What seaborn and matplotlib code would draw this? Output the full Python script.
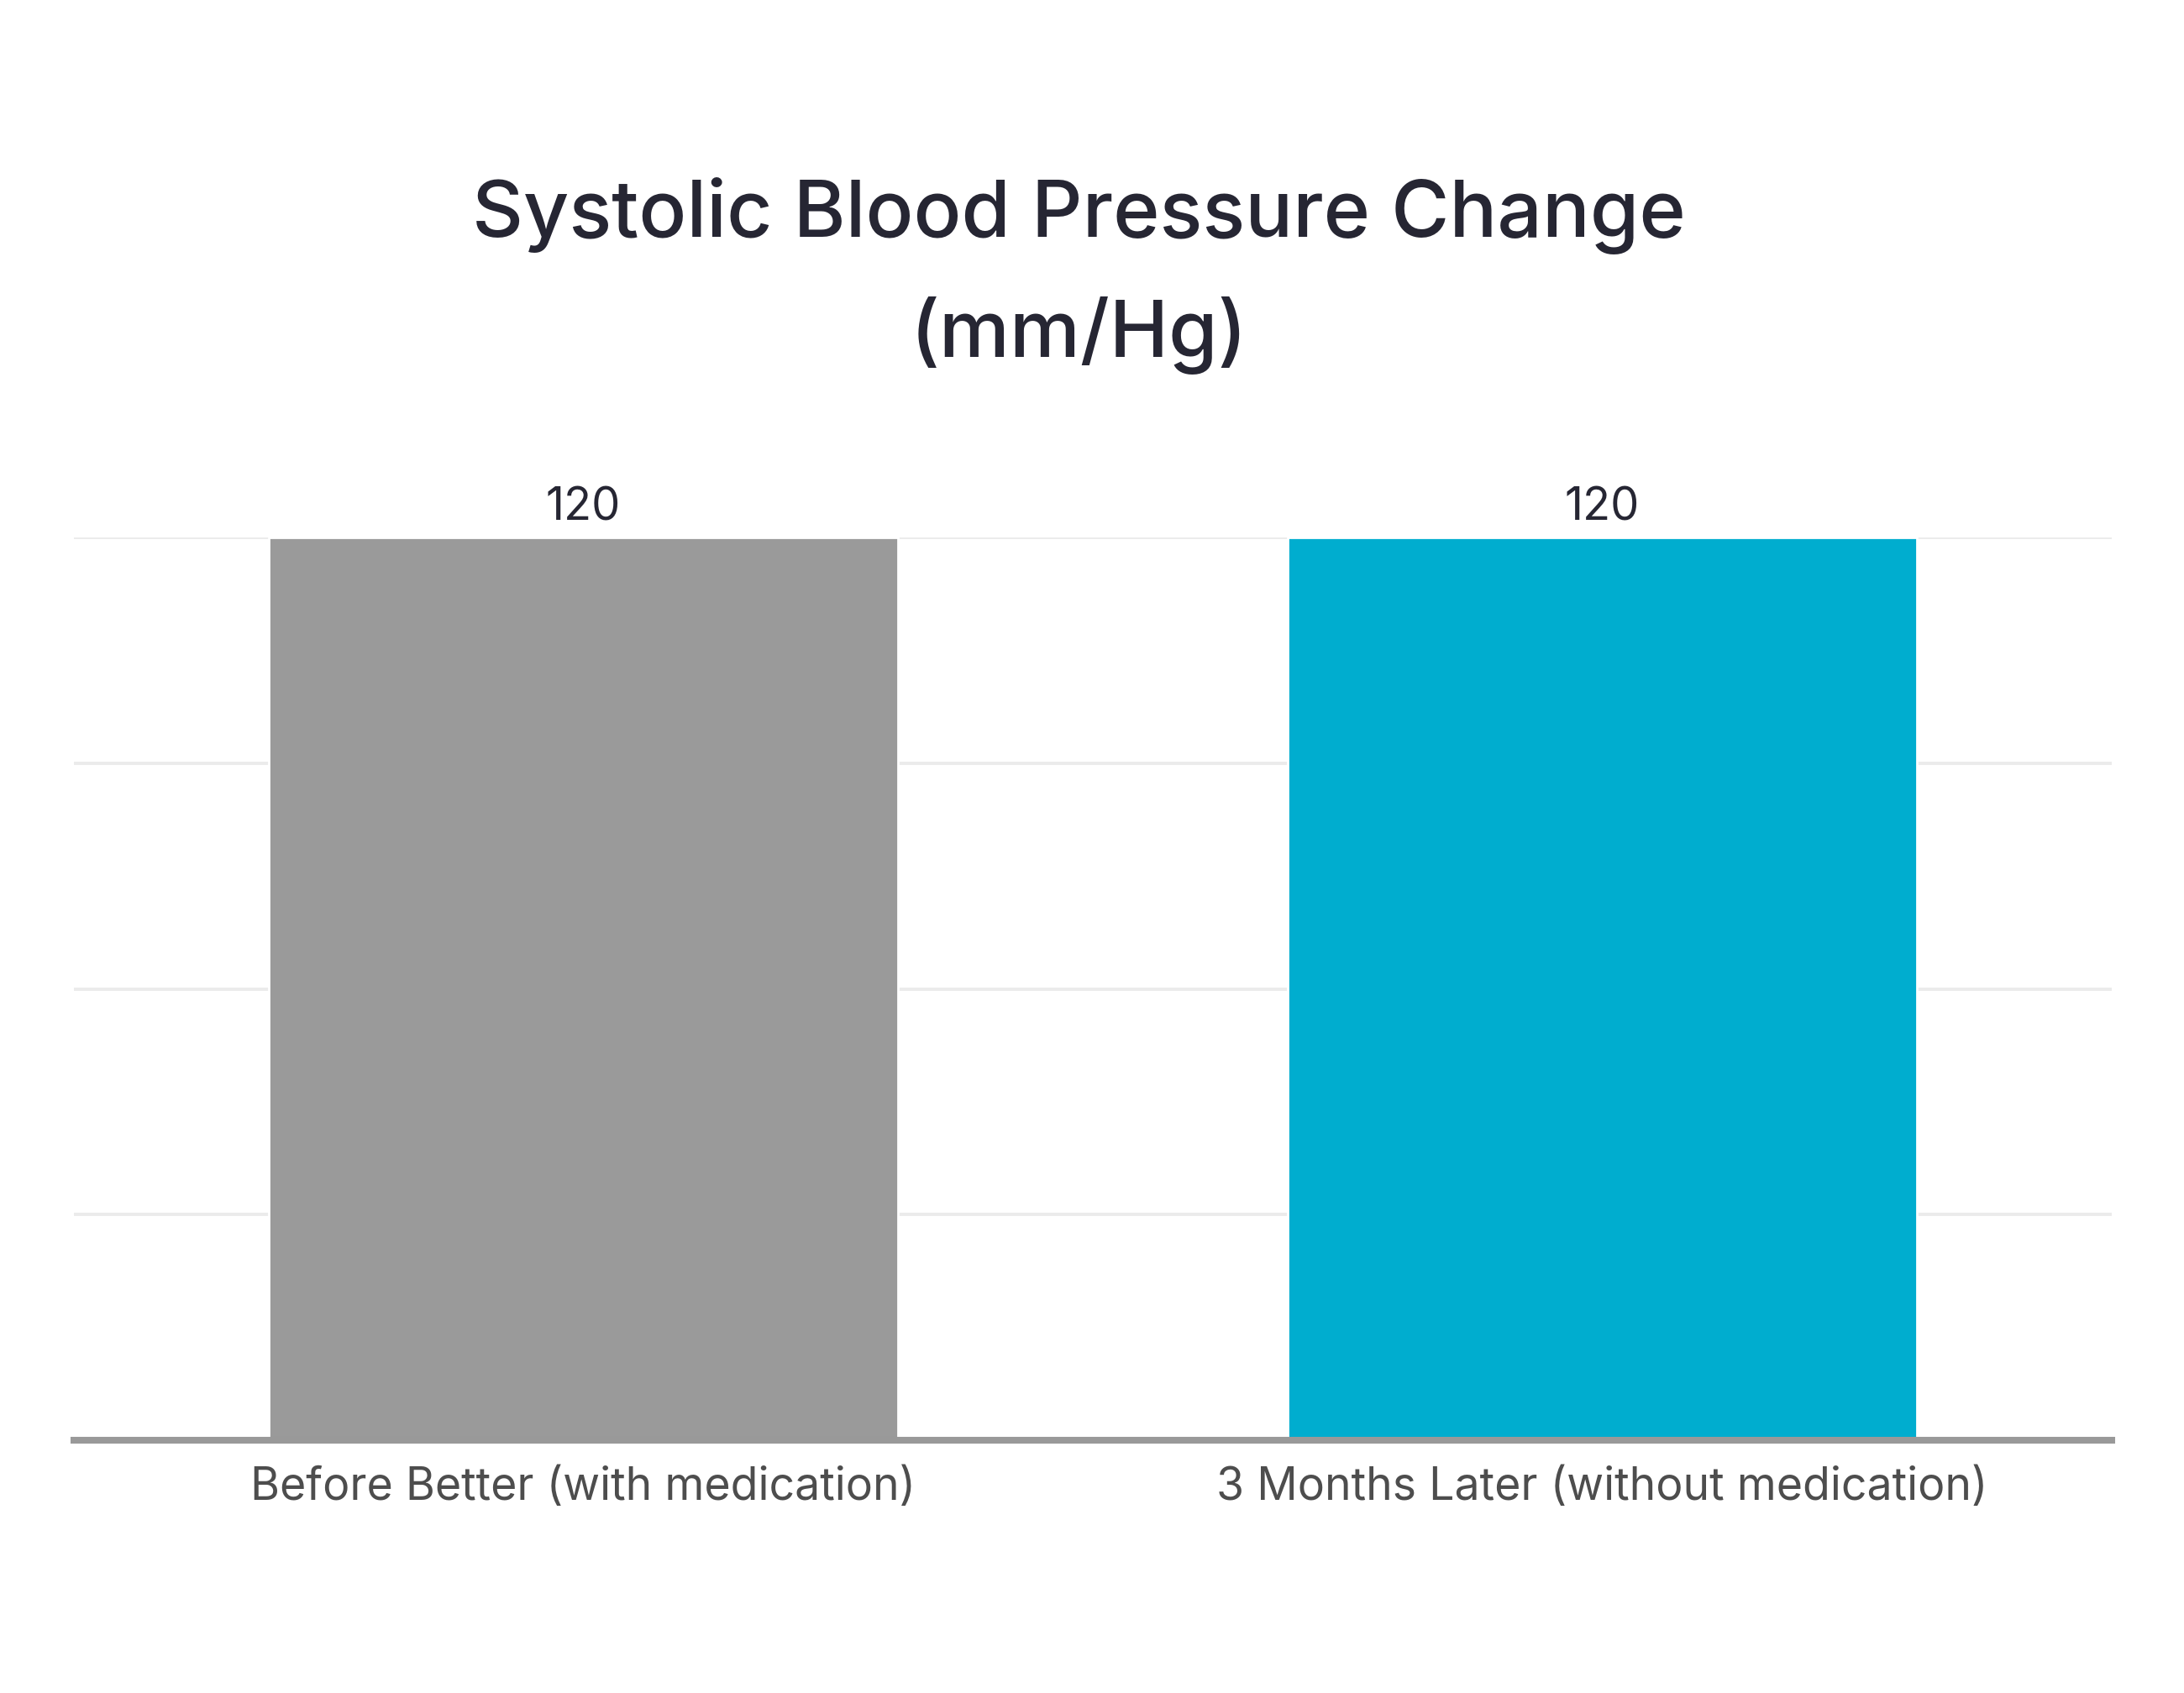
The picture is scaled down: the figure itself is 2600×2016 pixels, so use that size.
import matplotlib
matplotlib.use("Agg")
import matplotlib.pyplot as plt
import seaborn as sns
import pandas as pd

# data
categories = ["Before Better (with medication)", "3 Months Later (without medication)"]
values = [120, 120]
bar_colors = ["#9a9a9a", "#00adcf"]
yticks = [0, 30, 60, 90, 120]

df = pd.DataFrame({"stage": categories, "bp": values})

sns.set_style("white")
plt.rcParams["font.family"] = ["Inter", "DejaVu Sans"]

fig = plt.figure(figsize=(13, 10.08), dpi=200)
ax = fig.add_axes([0.0338, 0.1493, 0.9332, 0.5332])

sns.barplot(data=df, x="stage", y="bp", hue="stage", palette=bar_colors,
            width=0.618, legend=False, ax=ax, saturation=1)

ax.set_xlim(-0.5, 1.5)
ax.set_ylim(0, 120)
ax.set_yticks(yticks)
ax.set_yticklabels([])
ax.yaxis.grid(True, color="#ebebeb", linewidth=1.4)
ax.set_axisbelow(True)
ax.set_xlabel("")
ax.set_ylabel("")

for s in ["top", "right", "left"]:
    ax.spines[s].set_visible(False)
ax.spines["bottom"].set_color("#999999")
ax.spines["bottom"].set_linewidth(2.9)
ax.spines["bottom"].set_zorder(5)

ax.tick_params(axis="x", length=0, pad=11, labelsize=19.3, labelcolor="#4d4d4d")
ax.tick_params(axis="y", length=0)

# value labels above bars
for p in ax.patches:
    h = p.get_height()
    ax.annotate(f"{h:g}", (p.get_x() + p.get_width() / 2, h),
                xytext=(0, 3.5), textcoords="offset points",
                ha="center", va="bottom", fontsize=19.5, color="#262633")

fig.text(0.494, 1 - 257 / 2016, "Systolic Blood Pressure Change", ha="center", va="center",
         fontsize=34, color="#262633", fontweight="medium")
fig.text(0.494, 1 - 400 / 2016, "(mm/Hg)", ha="center", va="center",
         fontsize=34, color="#262633", fontweight="medium")

fig.savefig("out.png", dpi=200, facecolor="white")
